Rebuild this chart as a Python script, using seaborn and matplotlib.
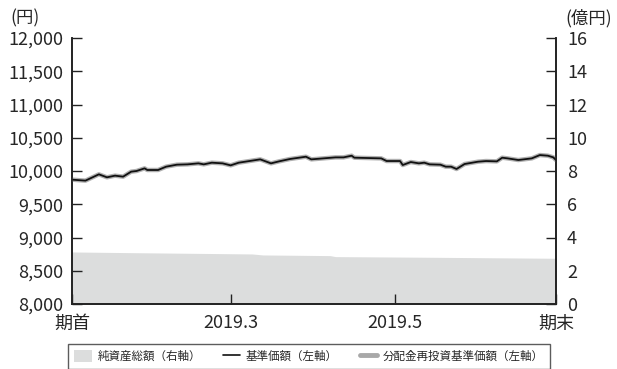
import matplotlib
matplotlib.use("Agg")
import matplotlib.pyplot as plt
from matplotlib.patches import Patch
from matplotlib.lines import Line2D
import seaborn as sns
import pandas as pd

# ---- data ----
nav_dates = [
    "2019-01-01", "2019-01-06", "2019-01-11", "2019-01-14", "2019-01-17", "2019-01-20",
    "2019-01-23", "2019-01-25", "2019-01-28", "2019-01-29", "2019-02-02", "2019-02-05",
    "2019-02-09", "2019-02-13", "2019-02-17", "2019-02-19", "2019-02-22", "2019-02-26",
    "2019-02-27", "2019-03-01", "2019-03-04", "2019-03-12", "2019-03-16", "2019-03-19",
    "2019-03-23", "2019-03-29", "2019-03-31", "2019-04-09", "2019-04-12", "2019-04-15",
    "2019-04-16", "2019-04-26", "2019-04-28", "2019-05-03", "2019-05-04", "2019-05-07",
    "2019-05-10", "2019-05-12", "2019-05-14", "2019-05-18", "2019-05-20", "2019-05-22",
    "2019-05-24", "2019-05-27", "2019-06-01", "2019-06-04", "2019-06-08", "2019-06-10",
    "2019-06-12", "2019-06-16", "2019-06-21", "2019-06-24", "2019-06-27", "2019-06-29",
    "2019-06-30",
]
nav_values = [
    9870, 9855, 9950, 9905, 9930, 9915,
    9990, 10000, 10040, 10015, 10015, 10065,
    10095, 10100, 10115, 10100, 10125, 10115,
    10105, 10085, 10125, 10175, 10115, 10145,
    10180, 10215, 10175, 10205, 10205, 10230,
    10200, 10190, 10150, 10150, 10090, 10135,
    10115, 10125, 10100, 10095, 10065, 10065,
    10030, 10105, 10140, 10150, 10145, 10200,
    10190, 10165, 10190, 10240, 10230, 10205,
    10165,
]
reinvest_values = [
    9870, 9855, 9950, 9905, 9930, 9915,
    9990, 10000, 10040, 10015, 10015, 10065,
    10095, 10100, 10115, 10100, 10125, 10115,
    10105, 10085, 10125, 10175, 10115, 10145,
    10180, 10215, 10175, 10205, 10205, 10230,
    10200, 10190, 10150, 10150, 10090, 10135,
    10115, 10125, 10100, 10095, 10065, 10065,
    10030, 10105, 10140, 10150, 10145, 10200,
    10190, 10165, 10190, 10240, 10230, 10205,
    10165,
]
asset_dates = ["2019-01-01", "2019-01-22", "2019-03-09", "2019-03-13",
               "2019-04-07", "2019-04-09", "2019-05-15", "2019-06-30"]
asset_values = [3.13, 3.09, 3.01, 2.95, 2.91, 2.85, 2.81, 2.75]

x_tick_dates = ["2019-01-01", "2019-03-01", "2019-05-01", "2019-06-30"]
x_tick_labels = ["期首", "2019.3", "2019.5", "期末"]
left_ticks = [8000, 8500, 9000, 9500, 10000, 10500, 11000, 11500, 12000]
right_ticks = [0, 2, 4, 6, 8, 10, 12, 14, 16]
legend_labels = ["純資産総額（右軸）", "基準価額（左軸）", "分配金再投資基準価額（左軸）"]

# ---- style ----
sns.set_theme(style="white")
plt.rcParams["font.family"] = ["Noto Sans CJK JP", "DejaVu Sans"]

nav_df = pd.DataFrame({"date": pd.to_datetime(nav_dates), "nav": nav_values,
                       "reinv": reinvest_values})
asset_df = pd.DataFrame({"date": pd.to_datetime(asset_dates), "asset": asset_values})

fig = plt.figure(figsize=(6.17, 3.69), dpi=100)
ax = fig.add_axes([72 / 617, 1 - 304 / 369, 484 / 617, 266 / 369])
ax2 = ax.twinx()

ax2.fill_between(asset_df["date"], asset_df["asset"], 0, color="#dcdddd", lw=0)
ax.set_zorder(ax2.get_zorder() + 1)
ax.patch.set_visible(False)

sns.lineplot(data=nav_df, x="date", y="reinv", ax=ax, color="#b0b0b0", lw=3.2)
sns.lineplot(data=nav_df, x="date", y="nav", ax=ax, color="#111111", lw=1.3)

xmin, xmax = pd.Timestamp(x_tick_dates[0]), pd.Timestamp(x_tick_dates[-1])
ax.set_xlim(xmin, xmax)
ax.set_ylim(left_ticks[0], left_ticks[-1])
ax2.set_ylim(right_ticks[0], right_ticks[-1])

ax.set_yticks(left_ticks)
ax.set_yticklabels([f"{v:,}" for v in left_ticks])
ax2.set_yticks(right_ticks)
ax2.set_yticklabels([str(v) for v in right_ticks])
ax.set_xticks(pd.to_datetime(x_tick_dates))
ax.set_xticklabels(x_tick_labels)

ax.set_xlabel("")
ax.set_ylabel("")
ax2.set_ylabel("")

for a in (ax, ax2):
    for s in a.spines.values():
        s.set_color("#222222")
        s.set_linewidth(1.2)
    a.spines["top"].set_visible(False)

ax.tick_params(axis="y", direction="in", length=7, width=1, color="#222222",
               labelsize=13, pad=6, left=True)
ax.tick_params(axis="x", direction="in", length=7, width=1, color="#222222",
               labelsize=13, pad=7.5, bottom=True)
ax2.tick_params(axis="y", direction="in", length=7, width=1, color="#222222",
                labelsize=13, pad=8, right=True)

fig.text(10 / 617, 1 - 18 / 369, "(円)", fontsize=12.5, ha="left", va="center")
fig.text(565 / 617, 1 - 18 / 369, "(億円)", fontsize=12.5, ha="left", va="center")

handles = [
    Patch(facecolor="#dcdddd", edgecolor="none"),
    Line2D([], [], color="#111111", lw=1.2),
    Line2D([], [], color="#a8a8a8", lw=3.5),
]
leg = fig.legend(handles, legend_labels, loc="upper center",
                 bbox_to_anchor=(309 / 617, 1 - 344 / 369), ncol=3,
                 frameon=True, fancybox=False, fontsize=8.3, handlelength=1.5,
                 handleheight=1.3, handletextpad=0.5, columnspacing=1.9,
                 borderpad=0.5, borderaxespad=0)
leg.get_frame().set_edgecolor("#333333")
leg.get_frame().set_linewidth(1.0)

fig.savefig("out.png", dpi=100)
